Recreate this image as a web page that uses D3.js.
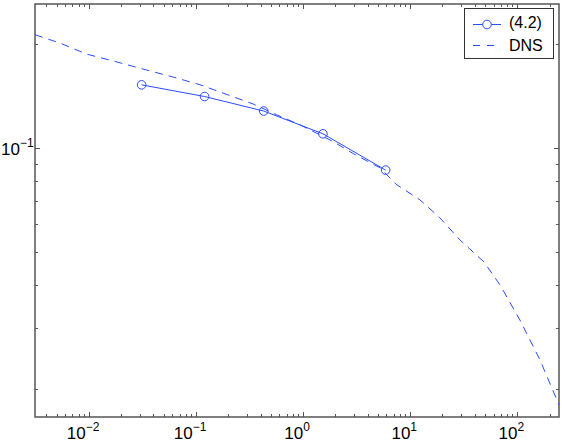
<!DOCTYPE html>
<html><head><meta charset="utf-8">
<script src="https://cdn.jsdelivr.net/npm/d3@7"></script>
<style>body{margin:0;background:#fff}svg{display:block}text{font-family:"Liberation Sans",Arial,Helvetica,sans-serif}</style>
</head><body><svg id="c" width="564" height="445"></svg>
<script>
// Data
const modelX = [0.031, 0.120, 0.428, 1.53, 5.89];
const modelY = [0.1522, 0.1408, 0.1278, 0.1098, 0.0862];
const dnsX = [0.00313, 0.00536, 0.00952, 0.0175, 0.0322, 0.0612, 0.1087, 0.342, 0.566, 0.933, 1.90, 2.94, 5.21, 7.46, 12.3, 18.9, 29.1, 48.8, 68.8, 105.8, 162.6, 245];
const dnsY = [0.2126, 0.2011, 0.1868, 0.1779, 0.1690, 0.1603, 0.1523, 0.1339, 0.1246, 0.1166, 0.1043, 0.0962, 0.0875, 0.0782, 0.0707, 0.0627, 0.0541, 0.0467, 0.0401, 0.0317, 0.0243, 0.0180];
const xTickExps = [-2, -1, 0, 1, 2];
const yTickExps = [-1];
const seriesNames = ["(4.2)", "DNS"];
const xDomain = [0.00313, 245];
const yDomain = [0.0166, 0.261];

const svg = d3.select("#c");
const L = 35, R = 559, T = 4, B = 417;
const x = d3.scaleLog().domain(xDomain).range([L, R]);
const y = d3.scaleLog().domain(yDomain).range([B, T]);
const blue = "#2b4cff";
const axisCol = "#555";

const xMinor = [], yMinor = [];
for (let e = -3; e <= 2; e++) for (let m = 2; m <= 9; m++) { const v = m * Math.pow(10, e); if (v > xDomain[0] && v < xDomain[1]) xMinor.push(v); }
for (let e = -2; e <= 0; e++) for (let m = 2; m <= 9; m++) { const v = m * Math.pow(10, e); if (v > yDomain[0] && v < yDomain[1]) yMinor.push(v); }
const xMajor = xTickExps.map(e => Math.pow(10, e));
const yMajor = yTickExps.map(e => Math.pow(10, e));

const g = svg.append("g");
function ticksX(vals, len) {
  vals.forEach(v => {
    const px = Math.round(x(v)) + 0.5;
    g.append("line").attr("x1", px).attr("x2", px).attr("y1", B).attr("y2", B - len).attr("stroke", axisCol);
    g.append("line").attr("x1", px).attr("x2", px).attr("y1", T).attr("y2", T + len).attr("stroke", axisCol);
  });
}
function ticksY(vals, len) {
  vals.forEach(v => {
    const py = Math.round(y(v)) + 0.5;
    g.append("line").attr("y1", py).attr("y2", py).attr("x1", L).attr("x2", L + len).attr("stroke", axisCol);
    g.append("line").attr("y1", py).attr("y2", py).attr("x1", R).attr("x2", R - len).attr("stroke", axisCol);
  });
}
ticksX(xMinor, 3); ticksX(xMajor, 5);
ticksY(yMinor, 3); ticksY(yMajor, 5);

g.append("rect").attr("x", L).attr("y", T).attr("width", R - L).attr("height", B - T)
  .attr("fill", "none").attr("stroke", axisCol).attr("stroke-width", 1.5);

function expText(e) { return e < 0 ? "\u2212" + (-e) : String(e); }
xMajor.forEach((v, i) => {
  const t = svg.append("text").attr("x", x(v) - 6).attr("y", 439).attr("text-anchor", "middle").attr("font-size", 17).attr("fill", "#000");
  t.append("tspan").text("10");
  t.append("tspan").attr("dy", -8).attr("font-size", 12).text(expText(xTickExps[i]));
});
yMajor.forEach((v, i) => {
  const t = svg.append("text").attr("x", 1).attr("y", y(v) + 7).attr("font-size", 17).attr("fill", "#000");
  t.append("tspan").text("10");
  t.append("tspan").attr("dy", -8).attr("font-size", 12).text(expText(yTickExps[i]));
});

svg.append("clipPath").attr("id", "clip").append("rect").attr("x", L).attr("y", T).attr("width", R - L).attr("height", B - T);

const line = d3.line().x(d => x(d[0])).y(d => y(d[1]));
const dnsData = dnsX.map((v, i) => [v, dnsY[i]]);
const modelData = modelX.map((v, i) => [v, modelY[i]]);

svg.append("path").attr("clip-path", "url(#clip)").datum(dnsData).attr("d", line)
  .attr("fill", "none").attr("stroke", blue).attr("stroke-width", 1).attr("stroke-dasharray", "8,6");
svg.append("path").datum(modelData).attr("d", line)
  .attr("fill", "none").attr("stroke", blue).attr("stroke-width", 1);
svg.selectAll("circle.m").data(modelData).enter().append("circle").attr("class", "m")
  .attr("cx", d => x(d[0])).attr("cy", d => y(d[1])).attr("r", 4.3)
  .attr("fill", "none").attr("stroke", blue).attr("stroke-width", 1);

const lg = svg.append("g");
lg.append("rect").attr("x", 464.5).attr("y", 8.5).attr("width", 89).attr("height", 50)
  .attr("fill", "#fff").attr("stroke", "#333").attr("stroke-width", 1);
lg.append("line").attr("x1", 473).attr("x2", 501).attr("y1", 24.5).attr("y2", 24.5).attr("stroke", blue);
lg.append("circle").attr("cx", 487).attr("cy", 24.5).attr("r", 4.3).attr("fill", "#fff").attr("stroke", blue);
lg.append("line").attr("x1", 473).attr("x2", 501).attr("y1", 45.5).attr("y2", 45.5).attr("stroke", blue).attr("stroke-dasharray", "7,7");
lg.append("text").attr("x", 509).attr("y", 28).attr("font-size", 16).text(seriesNames[0]);
lg.append("text").attr("x", 509).attr("y", 51).attr("font-size", 16).text(seriesNames[1]);
</script></body></html>
